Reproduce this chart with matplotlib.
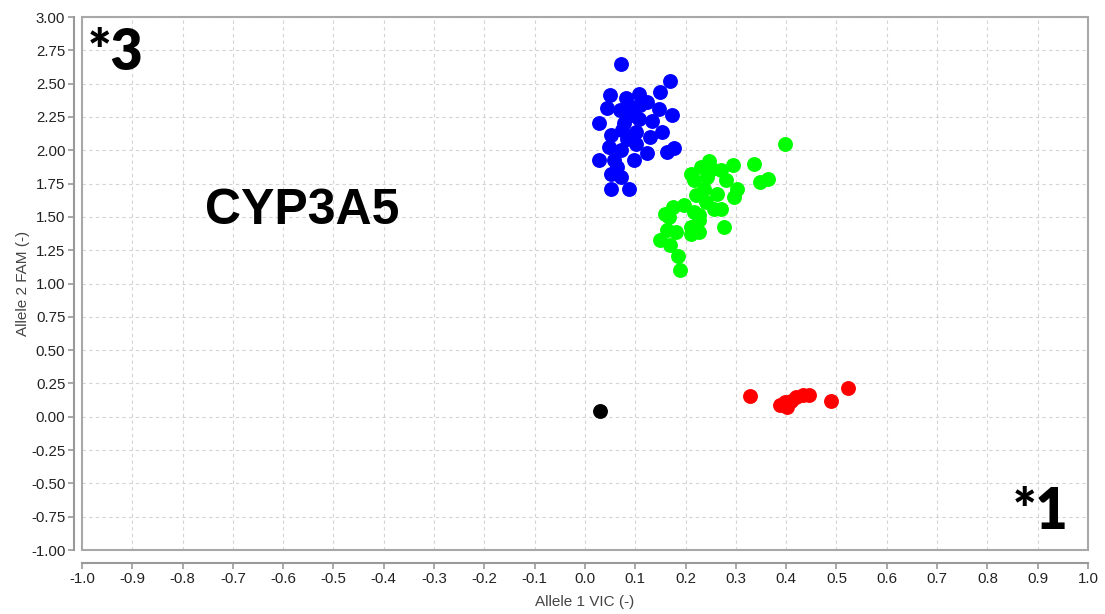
import numpy as np
import matplotlib.pyplot as plt
from matplotlib.patches import Rectangle

# Allele 1 VIC (x) / Allele 2 FAM (y) per genotype cluster
blue_x = [0.071, 0.170, 0.049, 0.081, 0.107, 0.124, 0.149, 0.043, 0.069, 0.094,
          0.147, 0.173, 0.028, 0.077, 0.107, 0.134, 0.051, 0.074, 0.101, 0.130,
          0.154, 0.047, 0.071, 0.101, 0.124, 0.164, 0.177, 0.028, 0.057, 0.097,
          0.051, 0.071, 0.051, 0.087, 0.064, 0.084, 0.091, 0.110]
blue_y = [2.647, 2.519, 2.413, 2.389, 2.419, 2.363, 2.434, 2.318, 2.300, 2.326,
          2.308, 2.263, 2.205, 2.205, 2.238, 2.218, 2.113, 2.150, 2.138, 2.100,
          2.138, 2.025, 2.000, 2.050, 1.980, 1.987, 2.020, 1.925, 1.925, 1.925,
          1.825, 1.800, 1.712, 1.712, 1.874, 2.088, 2.263, 2.338]

green_x = [0.397, 0.337, 0.363, 0.348, 0.295, 0.246, 0.270, 0.230, 0.217, 0.243,
           0.280, 0.303, 0.296, 0.263, 0.220, 0.240, 0.270, 0.256, 0.197, 0.174,
           0.167, 0.217, 0.227, 0.210, 0.227, 0.210, 0.276, 0.180, 0.150, 0.170,
           0.184, 0.189, 0.236, 0.253, 0.210, 0.160, 0.227, 0.164]
green_y = [2.045, 1.900, 1.787, 1.762, 1.887, 1.920, 1.855, 1.875, 1.774, 1.800,
           1.774, 1.712, 1.649, 1.674, 1.662, 1.611, 1.562, 1.562, 1.587, 1.574,
           1.499, 1.536, 1.474, 1.424, 1.386, 1.374, 1.424, 1.386, 1.329, 1.286,
           1.203, 1.098, 1.712, 1.862, 1.825, 1.524, 1.511, 1.398]

red_x = [0.329, 0.387, 0.402, 0.410, 0.419, 0.434, 0.445, 0.489, 0.522, 0.397]
red_y = [0.153, 0.085, 0.075, 0.120, 0.150, 0.165, 0.163, 0.115, 0.213, 0.108]

ntc_x = [0.029]
ntc_y = [0.045]

x_ticks = np.round(np.arange(-1.0, 1.01, 0.1), 1) + 0.0
y_ticks = np.arange(-1.0, 3.01, 0.25)

plt.rcParams['font.family'] = ['Liberation Sans', 'DejaVu Sans']

fig = plt.figure(figsize=(11.05, 6.14), dpi=100)
ax = fig.add_axes([0.0742, 0.1042, 0.9104, 0.8681])

ms = 115
ax.scatter(blue_x, blue_y, s=ms, color='#0000ff', linewidths=0, zorder=3)
ax.scatter(green_x, green_y, s=ms, color='#00ff00', linewidths=0, zorder=3)
ax.scatter(red_x, red_y, s=ms, color='#ff0000', linewidths=0, zorder=3)
ax.scatter(ntc_x, ntc_y, s=ms, color='black', linewidths=0, zorder=3)

ax.set_xlim(-1.0, 1.0)
ax.set_ylim(-1.0, 3.0)
ax.set_xticks(x_ticks)
ax.set_xticklabels([f"{abs(v):.1f}" if abs(v) < 1e-9 else f"{v:.1f}" for v in x_ticks])
ax.set_yticks(y_ticks)
ax.set_yticklabels([f"{v:.2f}" for v in y_ticks])
ax.grid(True, color='#d4d4d4', linestyle=(0, (3, 3)), linewidth=0.8)
ax.set_axisbelow(True)

# axis lines sit a little outside the plot box
ax.spines['left'].set_position(('outward', 6))
ax.spines['bottom'].set_position(('outward', 9))
ax.spines['top'].set_visible(False)
ax.spines['right'].set_visible(False)
for s in ['left', 'bottom']:
    ax.spines[s].set_color('#999999')
    ax.spines[s].set_linewidth(1.5)
ax.add_patch(Rectangle((0, 0), 1, 1, transform=ax.transAxes, fill=False,
                       edgecolor='#a8a8a8', linewidth=1.5, clip_on=False, zorder=4))
ax.tick_params(axis='both', colors='#999999', labelcolor='#222222', labelsize=10.8,
               length=4, width=1.2)
ax.tick_params(axis='x', pad=2.5)
ax.tick_params(axis='y', pad=2)

ax.set_xlabel('Allele 1 VIC (-)', fontsize=11, color='#444444', labelpad=7)
ax.set_ylabel('Allele 2 FAM (-)', fontsize=11, color='#444444', labelpad=1)

ax.text(-0.988, 2.60, '*3', fontsize=40, fontweight='heavy', family=['Lato', 'DejaVu Sans'],
        ha='left', va='baseline')
ax.text(0.960, -0.842, '*1', fontsize=40, fontweight='heavy', family=['Lato', 'DejaVu Sans'],
        ha='right', va='baseline')
ax.text(-0.755, 1.545, 'CYP3A5', fontsize=36, fontweight='bold', ha='left', va='center')

fig.savefig('out.png', dpi=100)
